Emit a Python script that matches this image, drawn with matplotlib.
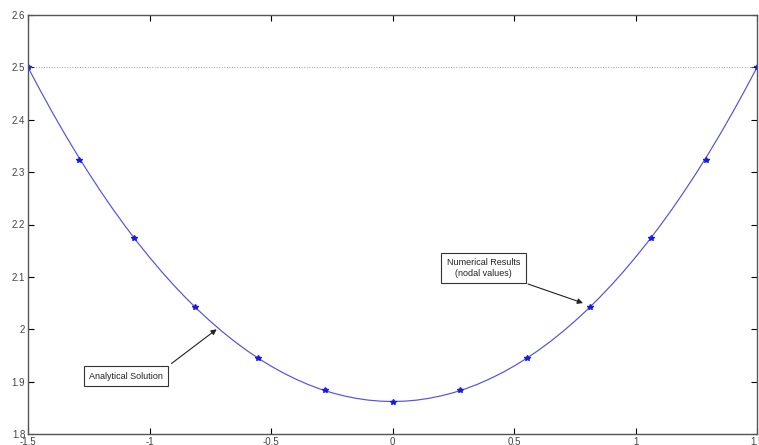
import matplotlib.pyplot as plt

# Analytical solution (right half, mirrored below)
x_half = [0.0, 0.05, 0.1, 0.15, 0.2, 0.25, 0.3, 0.35, 0.4, 0.45, 0.5, 0.55,
          0.6, 0.65, 0.7, 0.75, 0.8, 0.85, 0.9, 0.95, 1.0, 1.05, 1.1, 1.15,
          1.2, 1.25, 1.3, 1.35, 1.4, 1.45, 1.5]
y_half = [1.862, 1.8627, 1.8647, 1.8681, 1.8728, 1.8788, 1.8862, 1.8950,
          1.9052, 1.9167, 1.9296, 1.9439, 1.9596, 1.9767, 1.9953, 2.0153,
          2.0367, 2.0596, 2.0840, 2.1099, 2.1374, 2.1663, 2.1969, 2.2290,
          2.2627, 2.2981, 2.3351, 2.3738, 2.4142, 2.4564, 2.500]
x_curve = [-v for v in x_half[:0:-1]] + x_half
y_curve = y_half[:0:-1] + y_half

# Numerical results (nodal values)
x_nodes = [-1.5, -1.289, -1.064, -0.813, -0.555, -0.278, 0.0,
           0.278, 0.555, 0.813, 1.064, 1.289, 1.5]
y_nodes = [2.500, 2.323, 2.175, 2.043, 1.946, 1.884, 1.862,
           1.884, 1.946, 2.043, 2.175, 2.323, 2.500]

x_ticks = [-1.5, -1, -0.5, 0, 0.5, 1, 1.5]
x_ticklabels = ['-1.5', '-1', '-0.5', '0', '0.5', '1', '1.5']
y_ticks = [1.8, 1.9, 2.0, 2.1, 2.2, 2.3, 2.4, 2.5, 2.6]
y_ticklabels = ['1.8', '1.9', '2', '2.1', '2.2', '2.3', '2.4', '2.5', '2.6']

plt.rcParams['font.family'] = ['Liberation Sans', 'DejaVu Sans']

fig = plt.figure(figsize=(7.59, 4.45), dpi=100)
ax = fig.add_axes([28 / 759, 11 / 445, 729 / 759, 419 / 445])

# reference line at 2.5
ax.axhline(2.5, color='#999999', linestyle=':', linewidth=0.7)

ax.plot(x_curve, y_curve, color='#5252e0', linewidth=0.85)
ax.plot(x_nodes, y_nodes, linestyle='none', marker='*', markersize=3.8,
        color='#1a1ae6')

ax.set_xlim(-1.5, 1.5)
ax.set_ylim(1.8, 2.6)
ax.set_xticks(x_ticks)
ax.set_xticklabels(x_ticklabels)
ax.set_yticks(y_ticks)
ax.set_yticklabels(y_ticklabels)
ax.tick_params(direction='in', length=4, width=0.8, labelsize=7,
               labelcolor='#444444', top=True, right=True, pad=2)
for s in ax.spines.values():
    s.set_color('#555555')
    s.set_linewidth(1.0)

box = dict(boxstyle='square,pad=0.6', facecolor='white', edgecolor='#333333',
           linewidth=0.8)
ax.text(-1.0967, 1.9107, 'Analytical Solution', fontsize=6.5, color='#222222',
        ha='center', va='center', bbox=box)
ax.text(0.3745, 2.117, 'Numerical Results\n(nodal values)', fontsize=6.5,
        color='#222222', ha='center', va='center', bbox=box, linespacing=1.3)

arrow = dict(arrowstyle='-|>', color='#222222', linewidth=0.8,
             mutation_scale=8, shrinkA=0, shrinkB=0)
ax.annotate('', xy=(-0.7235, 2.0), xytext=(-0.9095, 1.9346), arrowprops=arrow)
ax.annotate('', xy=(0.784, 2.050), xytext=(0.5576, 2.0864), arrowprops=arrow)

fig.savefig('out.png', dpi=100)
